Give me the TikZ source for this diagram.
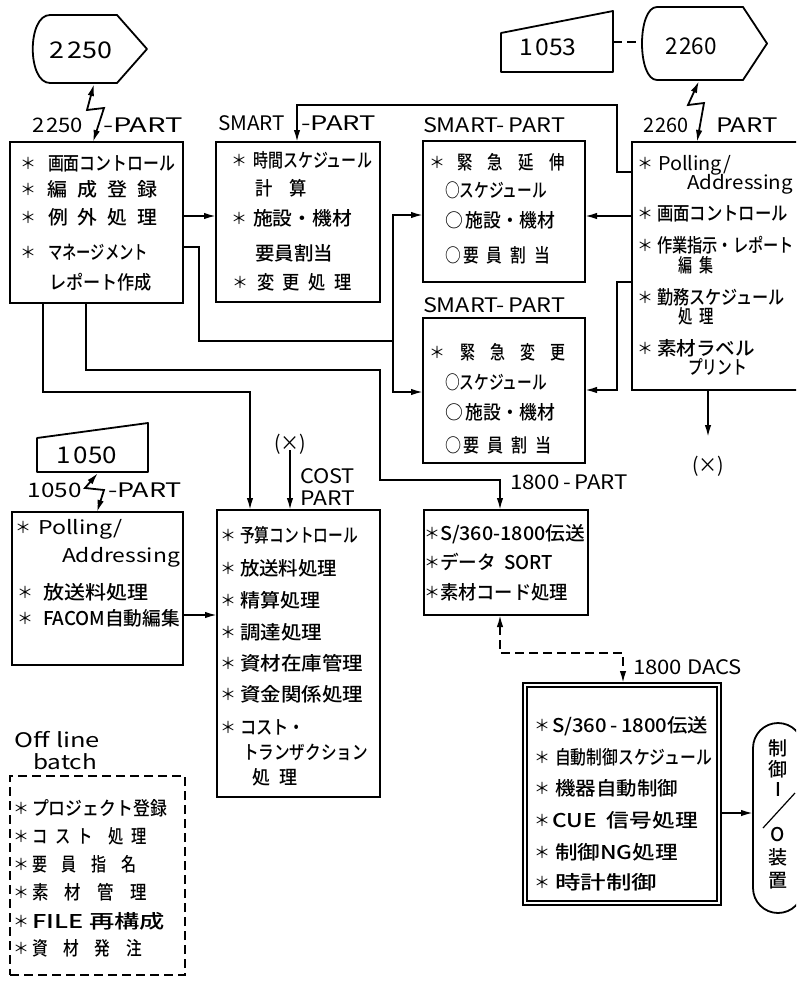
\documentclass[tikz,border=0pt]{standalone}
\usepackage{fontspec}
\usepackage{graphicx}
\setmainfont{Noto Sans CJK JP}[BoldFont={Noto Sans CJK JP Medium}]
\usetikzlibrary{arrows.meta}
\newcommand\W[2]{\resizebox{#1pt}{\height}{#2}}
\newcommand\g{\hspace{.5em}}
\newcommand\mybox[6][]{\node[box,#1,minimum width={(#5-#3)*1pt},minimum height={(#6-#4)*1pt}] (#2) at ({(#3+#5)/2},{(#4+#6)/2}) {};}
\tikzset{
 box/.style={draw, line width=1.8pt, inner sep=0pt, outer sep=0pt},
 ln/.style={inner sep=0pt, outer sep=0pt, anchor=west, text height=14.4pt, text depth=0pt, font=\fontsize{19}{22}\selectfont\bfseries},
 as/.style={inner sep=0pt, outer sep=0pt, anchor=center, text height=12.2pt, text depth=0pt, font=\fontsize{16}{20}\selectfont},
 lab/.style={inner sep=0pt, outer sep=0pt, text height=14.4pt, text depth=0pt, font=\fontsize{20}{24}\selectfont},
 big/.style={inner sep=0pt, outer sep=0pt, text height=16.6pt, text depth=0pt, font=\fontsize{23}{26}\selectfont},
 wire/.style={line width=1.8pt, line join=miter},
 arr/.style={wire, -{Latex[length=12pt,width=6.5pt]}},
 darr/.style={wire, {Latex[length=12pt,width=6.5pt]}-{Latex[length=12pt,width=6.5pt]}},
 shp/.style={line width=1.8pt, line join=round},
 dsh/.style={dash pattern=on 9pt off 5pt},
}
\begin{document}
\begin{tikzpicture}[x=1pt,y=-1pt]
\clip (0,0) rectangle (796,985);
\fill[white] (0,0) rectangle (796,985);

% ---------- terminal shapes ----------
\draw[shp] (50,15) -- (117,15) -- (147,49) -- (117,83) -- (50,83) .. controls (27,83) and (27,15) .. (50,15) -- cycle;
\node[big] (n2250) at (81,50) {\W{62}{2\kern2pt 250}};
\draw[shp] (657,7) -- (743,7) -- (767,43.5) -- (743,80) -- (657,80) .. controls (637,80) and (637,7) .. (657,7) -- cycle;
\node[big] (n2260) at (691,46) {\W{52}{2\kern2pt 260}};
\draw[shp] (501,33) -- (613,11) -- (613,72) -- (501,72) -- cycle;
\node[big] (n1053) at (548,47) {\W{57}{1\kern2pt 053}};
\draw[shp] (37,438) -- (148,423) -- (148,472) -- (37,472) -- cycle;
\node[big] (n1050) at (87,455) {\W{60}{1\kern2pt 050}};
\coordinate (s2250) at (94,84);
\coordinate (s2260) at (699,81);
\coordinate (s1050) at (98,473);
\coordinate (s1053) at (613,42);
\coordinate (w2260) at (642,42);

% ---------- boxes ----------
\mybox{B2250}{10}{142}{183}{303}
\mybox{BS1}{216}{142}{380}{302}
\mybox{BE}{423}{141}{585}{282}
\mybox{BC}{423}{318}{585}{463}
\mybox{B2260}{632}{142}{802}{390}
\mybox{B1050}{12}{512}{183}{665}
\mybox{COST}{217}{510}{380}{797}
\mybox{B1800}{424}{510}{588}{615}
\mybox[line width=1.4pt]{DACS}{523}{683}{721}{905}
\mybox[line width=1.4pt]{DACSi}{527}{687}{717}{901}
\mybox[dsh]{OFF}{10}{776}{185}{975}
\node[draw, line width=1.8pt, rounded corners=25pt, minimum width=50pt, minimum height=190pt, inner sep=0pt, outer sep=0pt] (IO) at (778,818) {};

% ---------- labels ----------
\node[lab, anchor=east] (L1) at (83,125) {\W{50}{2\kern1pt 250}};
\node[lab, anchor=west] (L2) at (103,125) {\W{80}{-PART}};
\node[lab, anchor=west] (L3) at (218,123) {\W{67}{SMART}};
\node[lab, anchor=west] (L4) at (301,123) {\W{75}{-PART}};
\node[lab, anchor=west] (L5) at (423,125) {\W{142}{SMART-\,PART}};
\node[lab, anchor=west] (L6) at (423,305) {\W{142}{SMART-\,PART}};
\node[lab, anchor=west] (L7) at (643,125) {\W{45}{2\kern1pt 260}};
\node[lab, anchor=west] (L8) at (716,125) {\W{62}{PART}};
\node[lab, anchor=east] (L9) at (82,490) {\W{54}{1050}};
\node[lab, anchor=west] (L10) at (108,490) {\W{74}{-PART}};
\node[lab, anchor=west] (L11) at (300,476) {\W{55}{COST}};
\node[lab, anchor=west] (L12) at (300,498) {\W{55}{PART}};
\node[lab, anchor=west] (L13) at (510,482) {\W{118}{1800\,-\,PART}};
\node[lab, anchor=west] (L14) at (633,667) {\W{109}{1800 DACS}};
\node[lab] (L15) at (290,443) {\W{32}{(×)}};
\node[lab] (L16) at (708,465) {\W{32}{(×)}};
\node[lab, anchor=west] (L17) at (15,740) {\W{85}{Off line}};
\node[lab, anchor=west] (L18) at (33,762) {\W{64}{batch}};

% ---------- box texts ----------
\foreach \xx/\yy/\ww/\tx [count=\i] in {
 48/163/127/{画面コントロール},
 48/189/110/{編\g{}成\g{}登\g{}録},
 48/217/109/{例\g{}外\g{}処\g{}理},
 48/252/100/{マネージメント},
 49/282/103/{レポート作成},
 253/160/119/{時間スケジュール},
 255/188/52/{計\g\g{}算},
 253/218/99/{施設・機材},
 255/253/78/{要員割当},
 257/282/95/{変\g{}更\g{}処\g{}理},
 457/162/108/{緊\g\g{}急\g\g{}延\g\g{}伸},
 445/190/102/{○スケジュール},
 445/220/110/{○\,施設・機材},
 445/255/105/{○\,要\g{}員\g{}割\g{}当},
 460/352/105/{緊\g\g{}急\g\g{}変\g\g{}更},
 445/382/102/{○スケジュール},
 445/412/110/{○\,施設・機材},
 445/445/107/{○\,要\g{}員\g{}割\g{}当},
 658/163/73/{\mdseries Polling/},
 687/182/106/{\mdseries Addressing},
 657/213/131/{画面コントロール},
 657/245/137/{作業指示・レポート},
 678/265/35/{編\g{}集},
 657/297/128/{勤務スケジュール},
 678/316/36/{処\g{}理},
 657/348/98/{素材ラベル},
 688/367/59/{プリント},
 38/527/85/{\mdseries Polling/},
 62/555/118/{\mdseries Addressing},
 43/592/105/{放送料処理},
 43/618/137/{FACOM自動編集},
 240/535/118/{予算コントロール},
 240/568/97/{放送料処理},
 240/600/80/{精算処理},
 240/632/82/{調達処理},
 240/663/123/{資材在庫管理},
 240/694/123/{資金関係処理},
 240/727/65/{コスト・},
 243/752/125/{トランザクション},
 252/777/45/{処\g{}理},
 440/533/145/{S/360-1800伝送},
 440/562/113/{データ\ \ SORT},
 440/592/128/{素材コード処理},
 552/725/156/{S/360\,-\,1800伝送},
 555/757/157/{自動制御スケジュール},
 555/788/123/{機器自動制御},
 552/820/146/{CUE\ \ 信号処理},
 555/852/123/{制御NG処理},
 555/882/102/{時計制御},
 32/808/135/{プロジェクト登録},
 32/836/115/{コ\g{}ス\g{}ト\g\g{}処\g{}理},
 32/864/105/{要\g\g{}員\g\g{}指\g\g{}名},
 32/892/115/{素\g\g{}材\g\g{}管\g\g{}理},
 32/921/133/{FILE\ 再構成},
 32/948/110/{資\g\g{}材\g\g{}発\g\g{}注}}
 \node[ln] (t\i) at (\xx,\yy) {\W{\ww}{\tx}};

% ---------- asterisks ----------
\foreach \xx/\yy [count=\i] in {
 28/163, 28/189, 28/217, 28/252,
 239/160, 239/218, 240/282,
 437/162, 437/352,
 645/163, 645/213, 645/245, 645/297, 645/348,
 23/527, 25/592, 25/618,
 228/535, 228/568, 228/600, 228/632, 228/663, 228/694, 228/727,
 432/533, 432/562, 432/592,
 542/725, 542/757, 542/788, 542/820, 542/852, 542/882,
 21/808, 21/836, 21/864, 21/892, 21/921, 21/948}
 \node[as] (a\i) at (\xx,\yy) {＊};

% ---------- I/O text ----------
\foreach \yy/\tx [count=\i] in {748/制, 769/御, 789/I, 834/O, 857/装, 880/置}
 \node[ln, anchor=center] (io\i) at (778,\yy) {\tx};
\draw[line width=1.2pt] (795,793) -- (763,828);

% ---------- connectors ----------
\draw[darr] (s2250) -- (87,110) -- (104,108) -- (B2250.north -| 93,0);
\draw[darr] (s2260) -- (688,105) -- (704,103) -- (B2260.north -| 697,0);
\draw[darr] (s1050) -- (85,488) -- (104,490) -- (B1050.north -| 97,0);
\draw[wire, dsh] (s1053) -- (w2260);

\draw[arr] (B2250.east |- 0,216) -- (BS1.west |- 0,216);
\draw[wire] (B2250.east |- 0,247) -- (199,247) -- (199,341) -- (393,341) coordinate (j1);
\draw[arr] (j1) -- (393,215) -- (BE.west |- 0,215);
\draw[arr] (j1) -- (393,392) -- (BC.west |- 0,392);
\draw[arr] (B2250.south -| 43,0) -- (43,392) -- (250,392) -- (COST.north -| 250,0);
\draw[arr] (B2250.south -| 86,0) -- (86,370) -- (380,370) -- (380,480) -- (500,480) -- (B1800.north -| 500,0);

\draw[arr] (B2260.west |- 0,172) -- (617,172) -- (617,105) -- (297,105) -- (BS1.north -| 297,0);
\draw[arr] (B2260.west |- 0,216) -- (BE.east |- 0,216);
\draw[arr] (B2260.west |- 0,282) -- (617,282) -- (617,390) -- (BC.east |- 0,390);
\draw[arr] (B2260.south -| L16.north) -- ++(0,47);

\draw[arr] (L15.south) -- (COST.north -| L15.south);
\draw[arr] (B1050.east |- 0,615) -- (COST.west |- 0,615);
\draw[darr, dsh] (B1800.south -| 500,0) -- (500,653) -- (623,653) -- (DACS.north -| 623,0);
\draw[arr] (DACS.east |- 0,813) -- (IO.west |- 0,813);
\end{tikzpicture}
\end{document}
